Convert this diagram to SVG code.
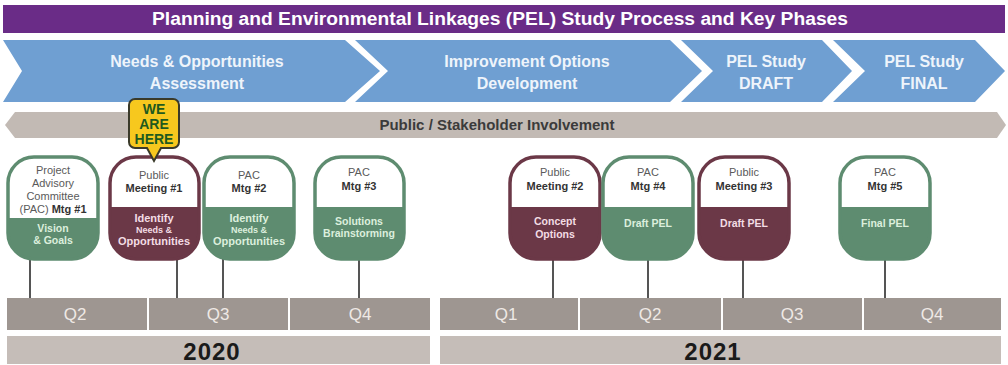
<svg xmlns="http://www.w3.org/2000/svg" width="1008" height="365" viewBox="0 0 1008 365">
<style>
text{font-family:"Liberation Sans",Arial,sans-serif;text-anchor:middle}
.title{fill:#ffffff;font-size:18px;font-weight:bold}
.chev{fill:#6f9fd2}
.chevt{fill:#eef4fb;font-size:16px;font-weight:bold}
.band{fill:#c2bab4}
.bandt{fill:#3b3b3b;font-size:15px;font-weight:bold}
.nbox{fill:#ffffff;stroke-width:3.5}
.g .nbox{stroke:#5e8c70}
.m .nbox{stroke:#6b3847}
.g .nfill{fill:#5e8c70}
.m .nfill{fill:#6b3847}
.nt{fill:#5a5a5a;font-size:11px}
.nb{fill:#333333;font-size:11px;font-weight:bold}
.g .lt{fill:#dcefdd;font-size:10.5px;font-weight:bold}
.m .lt{fill:#f3dde4;font-size:10.5px;font-weight:bold}
.stem{stroke:#555555;stroke-width:2}
.qbar{fill:#9e9691}
.qt{fill:#efe9e5;font-size:17px}
.ybar{fill:#c5bdb8}
.yt{fill:#1a1a1a;font-size:24px;font-weight:bold;letter-spacing:1px}
.here{fill:#f7c81e;stroke:#3a3a2a;stroke-width:2}
.heret{fill:#1f5a1f;font-size:14px;font-weight:bold}
</style>
<rect width="1008" height="365" fill="#ffffff"/>

<g id="title">
<rect x="3" y="5" width="1002" height="28" fill="#6a2c87"/>
<text class="title" x="500" y="25" textLength="696" lengthAdjust="spacingAndGlyphs">Planning and Environmental Linkages (PEL) Study Process and Key Phases</text>
</g>

<g id="phase1">
<polygon class="chev" points="3,40 345,40 380,71 345,102 3,102 22,71"/>
<text class="chevt" x="197" y="67">Needs &amp; Opportunities</text>
<text class="chevt" x="197" y="89">Assessment</text>
</g>
<g id="phase2">
<polygon class="chev" points="355,40 670,40 702,71 670,102 355,102 388,71"/>
<text class="chevt" x="527" y="67">Improvement Options</text>
<text class="chevt" x="527" y="89">Development</text>
</g>
<g id="phase3">
<polygon class="chev" points="681,40 822,40 852,71 822,102 681,102 713,71"/>
<text class="chevt" x="766" y="67">PEL Study</text>
<text class="chevt" x="766" y="89">DRAFT</text>
</g>
<g id="phase4">
<polygon class="chev" points="833,40 975,40 1005,71 975,102 833,102 865,71"/>
<text class="chevt" x="924" y="67">PEL Study</text>
<text class="chevt" x="924" y="89">FINAL</text>
</g>

<g id="involvement">
<polygon class="band" points="15,112 997,112 1006,125 997,138 15,138 5,125"/>
<text class="bandt" x="497" y="130">Public / Stakeholder Involvement</text>
</g>

<g id="connectors">
<line class="stem" x1="30" y1="259" x2="30" y2="298"/>
<line class="stem" x1="177" y1="259" x2="177" y2="298"/>
<line class="stem" x1="223" y1="259" x2="223" y2="298"/>
<line class="stem" x1="359" y1="259" x2="359" y2="298"/>
<line class="stem" x1="553" y1="259" x2="553" y2="298"/>
<line class="stem" x1="648" y1="259" x2="648" y2="298"/>
<line class="stem" x1="743" y1="259" x2="743" y2="298"/>
<line class="stem" x1="885" y1="259" x2="885" y2="298"/>
</g>

<g id="pac1" class="g">
<path class="nfill" d="M8,218 H98 V233 A26,26 0 0 1 72,259 H34 A26,26 0 0 1 8,233 Z"/>
<rect class="nbox" x="8" y="157" width="90" height="102" rx="26" style="fill:none"/>
<text class="nt" x="53" y="174">Project</text>
<text class="nt" x="53" y="187">Advisory</text>
<text class="nt" x="53" y="200">Committee</text>
<text class="nt" x="53" y="213">(PAC) <tspan class="nb">Mtg #1</tspan></text>
<text class="lt" x="53" y="232">Vision</text>
<text class="lt" x="53" y="244">&amp; Goals</text>
</g>

<g id="public1" class="m">
<path class="nfill" d="M110,207 H199 V233 A26,26 0 0 1 173,259 H136 A26,26 0 0 1 110,233 Z"/>
<rect class="nbox" x="110" y="157" width="89" height="102" rx="26" style="fill:none"/>
<text class="nt" x="154" y="179">Public</text>
<text class="nb" x="154" y="192">Meeting #1</text>
<text class="lt" x="154" y="222" style="font-size:11px">Identify</text>
<text class="lt" x="154" y="233" style="font-size:9px">Needs &amp;</text>
<text class="lt" x="154" y="245" style="font-size:11px">Opportunities</text>
</g>

<g id="pac2" class="g">
<path class="nfill" d="M204,207 H294 V233 A26,26 0 0 1 268,259 H230 A26,26 0 0 1 204,233 Z"/>
<rect class="nbox" x="204" y="157" width="90" height="102" rx="26" style="fill:none"/>
<text class="nt" x="249" y="179">PAC</text>
<text class="nb" x="249" y="192">Mtg #2</text>
<text class="lt" x="249" y="222" style="font-size:11px">Identify</text>
<text class="lt" x="249" y="233" style="font-size:9px">Needs &amp;</text>
<text class="lt" x="249" y="245" style="font-size:11px">Opportunities</text>
</g>

<g id="pac3" class="g">
<path class="nfill" d="M315,207 H404 V233 A26,26 0 0 1 378,259 H341 A26,26 0 0 1 315,233 Z"/>
<rect class="nbox" x="315" y="157" width="89" height="102" rx="26" style="fill:none"/>
<text class="nt" x="359" y="176">PAC</text>
<text class="nb" x="359" y="190">Mtg #3</text>
<text class="lt" x="359" y="225">Solutions</text>
<text class="lt" x="359" y="237">Brainstorming</text>
</g>

<g id="public2" class="m">
<path class="nfill" d="M510,207 H600 V233 A26,26 0 0 1 574,259 H536 A26,26 0 0 1 510,233 Z"/>
<rect class="nbox" x="510" y="157" width="90" height="102" rx="26" style="fill:none"/>
<text class="nt" x="555" y="176">Public</text>
<text class="nb" x="555" y="190">Meeting #2</text>
<text class="lt" x="555" y="225">Concept</text>
<text class="lt" x="555" y="238">Options</text>
</g>

<g id="pac4" class="g">
<path class="nfill" d="M603,207 H693 V233 A26,26 0 0 1 667,259 H629 A26,26 0 0 1 603,233 Z"/>
<rect class="nbox" x="603" y="157" width="90" height="102" rx="26" style="fill:none"/>
<text class="nt" x="648" y="176">PAC</text>
<text class="nb" x="648" y="190">Mtg #4</text>
<text class="lt" x="648" y="227">Draft PEL</text>
</g>

<g id="public3" class="m">
<path class="nfill" d="M699,207 H789 V233 A26,26 0 0 1 763,259 H725 A26,26 0 0 1 699,233 Z"/>
<rect class="nbox" x="699" y="157" width="90" height="102" rx="26" style="fill:none"/>
<text class="nt" x="744" y="176">Public</text>
<text class="nb" x="744" y="190">Meeting #3</text>
<text class="lt" x="744" y="227">Draft PEL</text>
</g>

<g id="pac5" class="g">
<path class="nfill" d="M840,207 H930 V233 A26,26 0 0 1 904,259 H866 A26,26 0 0 1 840,233 Z"/>
<rect class="nbox" x="840" y="157" width="90" height="102" rx="26" style="fill:none"/>
<text class="nt" x="885" y="176">PAC</text>
<text class="nb" x="885" y="190">Mtg #5</text>
<text class="lt" x="885" y="227">Final PEL</text>
</g>

<g id="we-are-here">
<path class="here" d="M135,99 H173 A6,6 0 0 1 179,105 V142 A6,6 0 0 1 173,148 H161 L154,161 L147,148 H135 A6,6 0 0 1 129,142 V105 A6,6 0 0 1 135,99 Z"/>
<text class="heret" x="154" y="114">WE</text>
<text class="heret" x="154" y="129">ARE</text>
<text class="heret" x="154" y="144">HERE</text>
</g>

<g id="quarters">
<rect class="qbar" x="7" y="298" width="140" height="32"/>
<rect class="qbar" x="149" y="298" width="139" height="32"/>
<rect class="qbar" x="290" y="298" width="140" height="32"/>
<rect class="qbar" x="440" y="298" width="138" height="32"/>
<rect class="qbar" x="580" y="298" width="141" height="32"/>
<rect class="qbar" x="723" y="298" width="139" height="32"/>
<rect class="qbar" x="864" y="298" width="137" height="32"/>
<text class="qt" x="75" y="320">Q2</text>
<text class="qt" x="218" y="320">Q3</text>
<text class="qt" x="360" y="320">Q4</text>
<text class="qt" x="506" y="320">Q1</text>
<text class="qt" x="650" y="320">Q2</text>
<text class="qt" x="792" y="320">Q3</text>
<text class="qt" x="932" y="320">Q4</text>
</g>

<g id="years">
<rect class="ybar" x="7" y="336" width="423" height="28"/>
<rect class="ybar" x="440" y="336" width="561" height="28"/>
<text class="yt" x="212" y="360">2020</text>
<text class="yt" x="713" y="360">2021</text>
</g>
</svg>
